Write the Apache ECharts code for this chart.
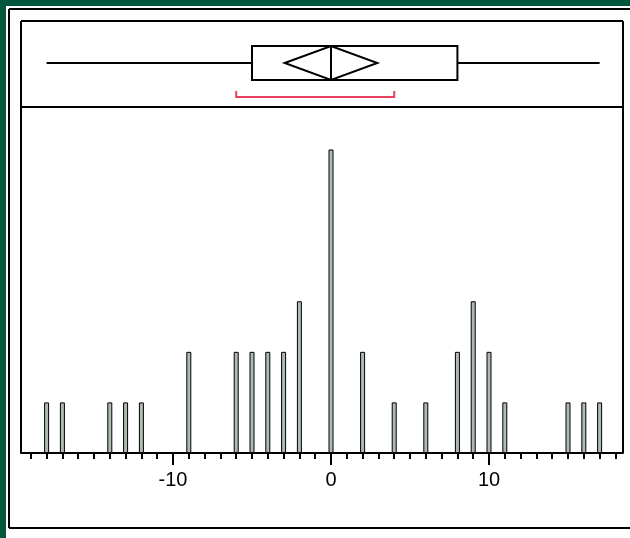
<!DOCTYPE html>
<html>
<head>
<meta charset="utf-8">
<script src="https://cdn.jsdelivr.net/npm/echarts@6/dist/echarts.min.js"></script>
<style>
html,body{margin:0;padding:0;background:#00573d;}
#chart{width:630px;height:538px;}
</style>
</head>
<body>
<div id="chart"></div>
<script>
// ---- data ----
const binCenters = [-18, -17, -14, -13, -12, -9, -6, -5, -4, -3, -2, 0, 2, 4, 6, 8, 9, 10, 11, 15, 16, 17];
const counts     = [1, 1, 1, 1, 1, 2, 2, 2, 2, 2, 3, 6, 2, 1, 1, 2, 3, 2, 1, 1, 1, 1];
const quantiles  = [-18, -5, 0, 8, 17];      // min, Q1, median, Q3, max
const meanDiamond = [-2.93, 0, 2.93];         // lower CI, mean, upper CI
const shortestHalf = [-6, 4];
const majorTickValues = [-10, 0, 10];
const tickLabels = ['-10', '0', '10'];
const minorTickValues = [];
for (let v = -19; v <= 18; v++) minorTickValues.push(v);

const X_MIN = -19.62, X_MAX = 18.48;
const Y_MAX = 6.84;

const chart = echarts.init(document.getElementById('chart'), null, {renderer: 'canvas'});

function boxRender(params, api) {
  const X = v => api.coord([v, 0.5])[0];
  const y = api.coord([0, 0.5])[1];
  const h = 17;
  const ls = {stroke: '#000', lineWidth: 2, fill: null};
  return {
    type: 'group',
    children: [
      {type: 'line', shape: {x1: X(quantiles[0]), y1: y, x2: X(quantiles[1]), y2: y}, style: ls},
      {type: 'line', shape: {x1: X(quantiles[3]), y1: y, x2: X(quantiles[4]), y2: y}, style: ls},
      {type: 'rect', shape: {x: X(quantiles[1]), y: y - h, width: X(quantiles[3]) - X(quantiles[1]), height: 2 * h}, style: ls},
      {type: 'polygon', shape: {points: [[X(meanDiamond[0]), y], [X(meanDiamond[1]), y - h], [X(meanDiamond[2]), y], [X(meanDiamond[1]), y + h]]}, style: ls},
      {type: 'line', shape: {x1: X(quantiles[2]), y1: y - h, x2: X(quantiles[2]), y2: y + h}, style: ls},
      {type: 'polyline', shape: {points: [[X(shortestHalf[0]), y + 28], [X(shortestHalf[0]), y + 34], [X(shortestHalf[1]), y + 34], [X(shortestHalf[1]), y + 28]]},
        style: {stroke: '#e8415f', lineWidth: 2, fill: null}}
    ]
  };
}

const frameLine = (x1, y1, x2, y2) => ({
  type: 'line', shape: {x1, y1, x2, y2}, style: {stroke: '#000', lineWidth: 2}, z: 10
});

const option = {
  animation: false,
  backgroundColor: 'transparent',
  graphic: [
    {type: 'rect', shape: {x: 6, y: 6, width: 624, height: 532}, style: {fill: '#ffffff'}, z: -10},
    frameLine(9, 9, 630, 9),
    frameLine(9, 9, 9, 528),
    frameLine(9, 528, 630, 528),
    frameLine(21, 21, 623, 21),
    frameLine(21, 21, 21, 453),
    frameLine(623, 21, 623, 453),
    frameLine(21, 107, 623, 107)
  ],
  grid: [
    {left: 21, top: 20, width: 602, height: 86},
    {left: 21, top: 107, width: 602, height: 346}
  ],
  xAxis: [
    {gridIndex: 0, type: 'value', min: X_MIN, max: X_MAX, show: false},
    {gridIndex: 1, type: 'value', min: X_MIN, max: X_MAX, position: 'bottom',
      axisLine: {show: true, lineStyle: {color: '#000', width: 2}},
      axisTick: {show: true, customValues: majorTickValues, length: 12, lineStyle: {color: '#000', width: 2}},
      axisLabel: {show: true, customValues: majorTickValues, margin: 17,
        formatter: v => tickLabels[majorTickValues.indexOf(v)] ?? String(v),
        color: '#000', fontSize: 20, fontFamily: 'Liberation Sans, Arial, sans-serif'},
      splitLine: {show: false}},
    {gridIndex: 1, type: 'value', min: X_MIN, max: X_MAX, position: 'bottom',
      axisLine: {show: false},
      axisTick: {show: true, customValues: minorTickValues, length: 6, lineStyle: {color: '#000', width: 2}},
      axisLabel: {show: false},
      splitLine: {show: false}}
  ],
  yAxis: [
    {gridIndex: 0, type: 'value', min: 0, max: 1, show: false},
    {gridIndex: 1, type: 'value', min: 0, max: Y_MAX, show: false}
  ],
  series: [
    {type: 'custom', xAxisIndex: 0, yAxisIndex: 0, data: [[0, 0.5]], renderItem: boxRender, clip: false, silent: true},
    {type: 'bar', xAxisIndex: 1, yAxisIndex: 1,
      data: binCenters.map((x, i) => [x, counts[i]]),
      barWidth: 5,
      itemStyle: {color: '#aebcae', borderColor: '#000', borderWidth: 1},
      silent: true}
  ]
};
chart.setOption(option);
</script>
</body>
</html>
